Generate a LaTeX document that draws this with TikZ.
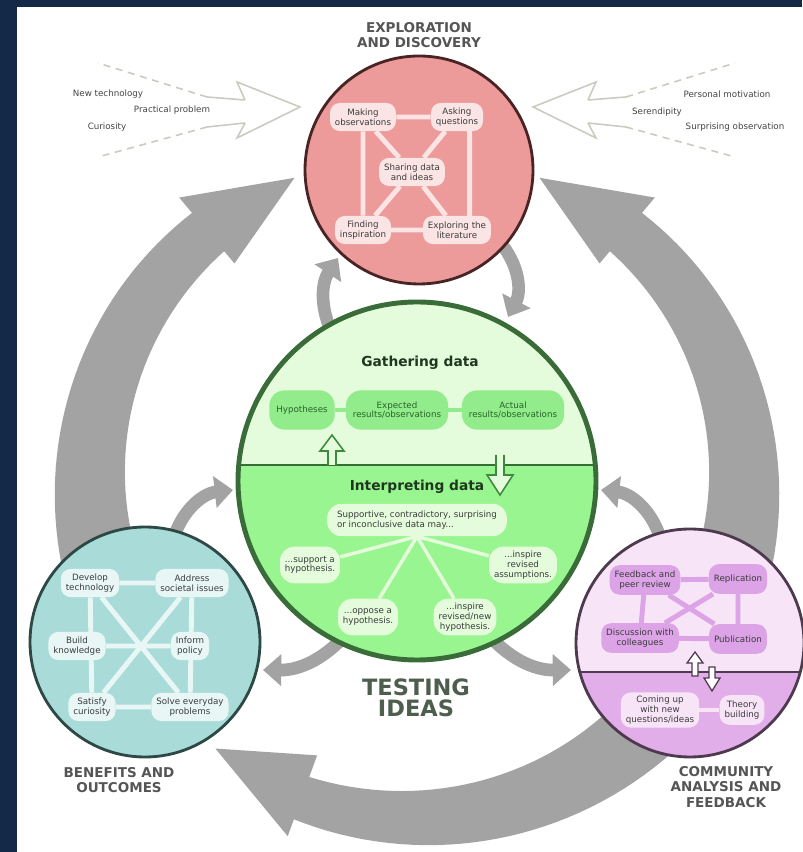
\documentclass[tikz,border=0pt]{standalone}
\usepackage{fontspec}
\setmainfont{DejaVu Sans}
\usetikzlibrary{arrows.meta}

\definecolor{navy}{RGB}{20,40,72}
\definecolor{cyclegray}{RGB}{163,163,163}
\definecolor{inputgray}{RGB}{202,202,190}
\definecolor{titlegray}{RGB}{85,85,85}
\definecolor{labelgray}{RGB}{70,70,70}
\definecolor{boxtext}{RGB}{60,60,60}
\definecolor{testgreen}{RGB}{78,94,78}
\definecolor{pinkfill}{RGB}{236,154,154}
\definecolor{pinkedge}{RGB}{72,36,36}
\definecolor{pinkbox}{RGB}{251,228,228}
\definecolor{greenedge}{RGB}{58,108,58}
\definecolor{arrowgreen}{RGB}{60,138,60}
\definecolor{gatherfill}{RGB}{228,252,220}
\definecolor{interpfill}{RGB}{152,245,144}
\definecolor{gatherboxfill}{RGB}{146,236,139}
\definecolor{greentext}{RGB}{40,100,40}
\definecolor{headgreen}{RGB}{30,55,30}
\definecolor{tealfill}{RGB}{169,220,216}
\definecolor{tealedge}{RGB}{46,72,70}
\definecolor{tealbox}{RGB}{232,247,246}
\definecolor{purpleedge}{RGB}{78,58,78}
\definecolor{purpletop}{RGB}{247,228,247}
\definecolor{purplebottom}{RGB}{226,174,234}
\definecolor{purplebox}{RGB}{220,163,230}

\pgfdeclarelayer{links}
\pgfdeclarelayer{boxes}
\pgfsetlayers{main,links,boxes}

\newcommand{\boxfont}{\fontsize{6.2}{6.9}\selectfont}
\newcommand{\headfont}{\fontsize{9.6}{11.2}\selectfont\bfseries}
\newcommand{\testfont}{\fontsize{16}{15}\selectfont\bfseries}

% tapered arc of the cycle around the origin:
% start angle, base angle, tip angle, r in/out at start, r in/out at base, head r in/out
\newcommand{\cyclearrow}[9]{%
  \fill[cyclegray]
    plot[domain=#1:#2,samples=40] (\x:{#5+(#7-#5)*(\x-(#1))/((#2)-(#1))})
    -- (#2:#9) -- (#3:{(#8+#9)/2}) -- (#2:#8)
    -- plot[domain=#2:#1,samples=40] (\x:{#6+(#4-#6)*(\x-(#2))/((#1)-(#2))})
    -- cycle;}

\tikzset{
  box/.style={rounded corners=7pt, inner xsep=3.5pt, inner ysep=2pt, minimum height=20pt,
    align=center, font=\boxfont, text=boxtext},
  explorebox/.style={box, fill=pinkbox},
  gatherbox/.style={box, fill=gatherboxfill, text=greentext, minimum height=28pt,
    rounded corners=11pt, inner xsep=5pt},
  interpbox/.style={box, fill=gatherfill, minimum height=26pt, rounded corners=10pt},
  benefitbox/.style={box, fill=tealbox},
  feedbackbox/.style={box, fill=purplebox, minimum height=21pt},
  ideabox/.style={box, fill=purpletop, minimum height=21pt},
  heading/.style={font=\headfont, text=titlegray, align=center},
  inputlabel/.style={font=\boxfont, text=labelgray},
  inputline/.style={draw=inputgray, line width=1.1pt},
  smallarrow/.style={draw=cyclegray, line width=9pt, -{Triangle[length=13pt,width=22pt]}},
  explorelink/.style={draw=pinkbox, line width=3.5pt},
  gatherlink/.style={draw=gatherboxfill, line width=3pt},
  interplink/.style={draw=gatherfill, line width=2.5pt},
  benefitlink/.style={draw=tealbox, line width=3.5pt},
  feedbacklink/.style={draw=purplebox, line width=3.5pt},
  idealink/.style={draw=purpletop, line width=3.5pt},
  hollowgreen/.style={fill=gatherfill, draw=arrowgreen, line width=1.1pt, line join=miter},
  hollowpurple/.style={fill=white, draw=purpleedge, line width=0.9pt, line join=miter}
}

\begin{document}
\begin{tikzpicture}[x=0.025cm, y=0.025cm]
  % frame
  \fill[navy] (0,0) rectangle (802,852);
  \fill[white] (17,0) rectangle (802,845);
  \useasboundingbox (0,0) rectangle (802,852);

  \coordinate (G) at (417,371);
  \coordinate (P) at (419,682);
  \coordinate (T) at (145,210);
  \coordinate (C) at (690,209);

  % big cycle arrows
  \begin{scope}[shift={(G)}]
    \cyclearrow{205}{130}{112}{288}{368}{300}{350}{284}{370}
    \cyclearrow{-25}{50}{68}{288}{368}{300}{350}{284}{370}
    \cyclearrow{325}{250}{233}{295}{375}{315}{360}{292}{378}
  \end{scope}

  % small arrows between the circles
  \coordinate (ga) at (333,517);  \coordinate (pa) at (338,594);
  \coordinate (pb) at (498,612);  \coordinate (gb) at (508,535);
  \coordinate (gc) at (350,222);  \coordinate (tc) at (263,182);
  \coordinate (gd) at (484,222);  \coordinate (cd) at (571,182);
  \coordinate (te) at (172,308);  \coordinate (ge) at (233,362);
  \coordinate (cf) at (662,308);  \coordinate (gf) at (601,362);
  \draw[smallarrow] (ga) to[bend left=30] (pa);
  \draw[smallarrow] (pb) to[bend left=35] (gb);
  \draw[smallarrow] (gc) to[bend left=25] (tc);
  \draw[smallarrow] (gd) to[bend right=25] (cd);
  \draw[smallarrow] (te) to[bend left=35] (ge);
  \draw[smallarrow] (cf) to[bend right=35] (gf);

  % open input arrows
  \draw[inputline] (245,752) -- (237,770) -- (300,745) -- (237,714) -- (245,729);
  \draw[inputline] (245,752) -- (207,755) (245,729) -- (207,725);
  \draw[inputline, dash pattern=on 5pt off 4pt] (207,755) -- (98,789) (207,725) -- (98,695);
  \draw[inputline] (588,752) -- (596,770) -- (533,745) -- (596,714) -- (588,729);
  \draw[inputline] (588,752) -- (626,755) (588,729) -- (626,725);
  \draw[inputline, dash pattern=on 5pt off 4pt] (626,755) -- (735,789) (626,725) -- (735,695);

  \node[inputlabel] (newtech) at (108,758) {New technology};
  \node[inputlabel] (practical) at (172,742) {Practical problem};
  \node[inputlabel] (curiosity) at (107,725) {Curiosity};
  \node[inputlabel] (personal) at (727,758) {Personal motivation};
  \node[inputlabel] (serendipity) at (657,740) {Serendipity};
  \node[inputlabel] (surprising) at (735,725) {Surprising observation};

  % exploration circle
  \fill[pinkfill] (P) circle (114);
  \draw[pinkedge, line width=2pt] (P) circle (114);

  % testing circle
  \begin{scope}
    \clip (G) circle (179);
    \fill[gatherfill] (230,387) rectangle (600,560);
    \fill[interpfill] (230,387) rectangle (600,180);
    \draw[greenedge, line width=1.8pt] (230,387) -- (600,387);
  \end{scope}
  \draw[greenedge, line width=3.5pt] (G) circle (179);

  % benefits circle
  \fill[tealfill] (T) circle (115);
  \draw[tealedge, line width=2pt] (T) circle (115);

  % community circle
  \begin{scope}
    \clip (C) circle (114);
    \fill[purpletop] (570,180) rectangle (810,330);
    \fill[purplebottom] (570,180) rectangle (810,90);
    \draw[purpleedge, line width=1.5pt] (570,180) -- (810,180);
  \end{scope}
  \draw[purpleedge, line width=2pt] (C) circle (114);

  % hollow arrows across the dividers
  \draw[hollowgreen] (328,387) -- (328,401) -- (320,401) -- (332,417) -- (344,401) -- (336,401) -- (336,387);
  \draw[hollowgreen] (496,397) -- (496,377) -- (487,377) -- (500,357) -- (513,377) -- (504,377) -- (504,397);
  \draw[hollowpurple] (692,176) -- (692,189) -- (687,189) -- (695,200) -- (703,189) -- (698,189) -- (698,176) -- cycle;
  \draw[hollowpurple] (709,185) -- (709,174) -- (704,174) -- (712,161) -- (720,174) -- (715,174) -- (715,185) -- cycle;

  \begin{pgfonlayer}{boxes}
    % exploration and discovery
    \node[explorebox] (make) at (363,735) {Making\\observations};
    \node[explorebox] (ask) at (457,735) {Asking\\questions};
    \node[explorebox] (share) at (412,680) {Sharing data\\and ideas};
    \node[explorebox] (find) at (363,622) {Finding\\inspiration};
    \node[explorebox] (lit) at (457,622) {Exploring the\\literature};

    % gathering data
    \node[font=\fontsize{9.8}{11}\selectfont\bfseries, text=headgreen] (gather) at (420,489) {Gathering data};
    \node[gatherbox] (hyp) at (302,442) {Hypotheses};
    \node[gatherbox] (exp) at (397,442) {Expected\\results/observations};
    \node[gatherbox] (act) at (513,442) {Actual\\results/observations};

    % interpreting data
    \node[font=\fontsize{9.8}{11}\selectfont\bfseries, text=headgreen] (interp) at (417,365) {Interpreting data};
    \node[interpbox, align=left, inner xsep=7pt, minimum height=23pt] (supp) at (417,332)
      {Supportive, contradictory, surprising\\or inconclusive data may...};
    \node[interpbox, align=left] (sup) at (310,287) {...support a\\hypothesis.};
    \node[interpbox] (opp) at (368,235) {...oppose a\\hypothesis.};
    \node[interpbox] (insp) at (465,235) {...inspire\\revised/new\\hypothesis.};
    \node[interpbox] (assum) at (523,287) {...inspire\\revised\\assumptions.};

    % benefits and outcomes
    \node[benefitbox] (dev) at (90,269) {Develop\\technology};
    \node[benefitbox] (addr) at (192,269) {Address\\societal issues};
    \node[benefitbox] (build) at (77,206) {Build\\knowledge};
    \node[benefitbox] (inform) at (190,206) {Inform\\policy};
    \node[benefitbox] (sat) at (92,145) {Satisfy\\curiosity};
    \node[benefitbox] (solve) at (190,145) {Solve everyday\\problems};

    % community analysis and feedback
    \node[feedbackbox] (feed) at (645,272) {Feedback and\\peer review};
    \node[feedbackbox] (repl) at (738,273) {Replication};
    \node[feedbackbox] (disc) at (640,214) {Discussion with\\colleagues};
    \node[feedbackbox] (pub) at (738,213) {Publication};
    \node[ideabox, minimum height=25pt] (come) at (660,142) {Coming up\\with new\\questions/ideas};
    \node[ideabox] (theory) at (742,142) {Theory\\building};
  \end{pgfonlayer}

  \begin{pgfonlayer}{links}
    \draw[explorelink] (make) -- (ask) (find) -- (lit) (make) -- (find)
      ([xshift=9pt]ask.center) -- ([xshift=9pt]lit.center)
      (make) -- (share) (ask) -- (share) (find) -- (share) (lit) -- (share);
    \draw[gatherlink] (hyp) -- (exp) -- (act);
    \draw[interplink] (supp.south) -- (sup) (supp.south) -- (opp)
      (supp.south) -- (insp) (supp.south) -- (assum);
    \draw[benefitlink] (dev) -- (addr) (build) -- (inform) (sat) -- (solve)
      (dev) -- (sat) (addr) -- (solve) (dev) -- (solve) (addr) -- (sat);
    \draw[feedbacklink] (feed) -- (repl) (disc) -- (pub) (feed) -- (disc)
      (repl) -- (pub) (feed) -- (pub) (repl) -- (disc);
    \draw[idealink] (come) -- (theory);
  \end{pgfonlayer}

  % stage titles
  \node[heading] (explore) at (419,817) {EXPLORATION\\AND DISCOVERY};
  \node[heading] (benefits) at (119,72) {BENEFITS AND\\OUTCOMES};
  \node[heading] (community) at (726,65) {COMMUNITY\\ANALYSIS AND\\FEEDBACK};
  \node[font=\testfont, text=testgreen, align=center] (testing) at (416,154) {TESTING\\IDEAS};
\end{tikzpicture}
\end{document}
